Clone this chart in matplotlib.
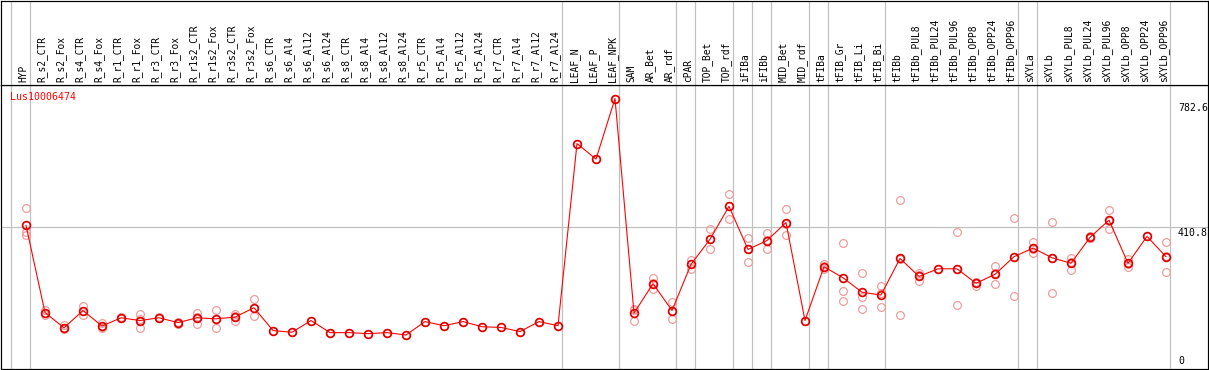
import matplotlib

matplotlib.use("Agg")
import matplotlib.pyplot as plt
import numpy as np

gene = "Lus10006474"

samples = [
    "HYP", "R_s2_CTR", "R_s2_Fox", "R_s4_CTR", "R_s4_Fox", "R_r1_CTR", "R_r1_Fox",
    "R_r3_CTR", "R_r3_Fox", "R_r1s2_CTR", "R_r1s2_Fox", "R_r3s2_CTR", "R_r3s2_Fox",
    "R_s6_CTR", "R_s6_Al4", "R_s6_Al12", "R_s6_Al24", "R_s8_CTR", "R_s8_Al4",
    "R_s8_Al12", "R_s8_Al24", "R_r5_CTR", "R_r5_Al4", "R_r5_Al12", "R_r5_Al24",
    "R_r7_CTR", "R_r7_Al4", "R_r7_Al12", "R_r7_Al24", "LEAF_N", "LEAF_P", "LEAF_NPK",
    "SAM", "AR_Bet", "AR_rdf", "cPAR", "TOP_Bet", "TOP_rdf", "iFIBa", "iFIBb",
    "MID_Bet", "MID_rdf", "tFIBa", "tFIB_Gr", "tFIB_Li", "tFIB_Bi", "tFIBb",
    "tFIBb_PUL8", "tFIBb_PUL24", "tFIBb_PUL96", "tFIBb_OPP8", "tFIBb_OPP24",
    "tFIBb_OPP96", "sXYLa", "sXYLb", "sXYLb_PUL8", "sXYLb_PUL24", "sXYLb_PUL96",
    "sXYLb_OPP8", "sXYLb_OPP24", "sXYLb_OPP96",
]

mean_expr = [
    415, 162, 118, 168, 123, 147, 139, 147, 133, 147, 144, 149, 176,
    110, 105, 139, 104, 104, 101, 104, 97, 136, 124, 136, 121, 119, 107, 136, 124,
    652, 607, 782.6,
    160.5, 246, 168, 302, 374.5, 470, 345, 371, 423, 139, 295, 263, 221, 213, 319,
    267, 289, 289, 247, 273, 324, 349, 321, 305, 380, 430, 305, 383, 324,
]

replicates = [
    [464, 396, 387], [169, 155, 161], [125, 115, 116], [181, 154, 168],
    [131, 118, 121], [147, 145, 149], [157, 118, 143], [146, 148, 147],
    [136, 130, 132], [162, 130, 150], [171, 118, 143], [157, 152, 138],
    [200, 152, 176],
    [110], [105], [139], [104], [104], [101], [104], [97], [136], [124], [136],
    [121], [119], [107], [136], [124], [652], [607], [782.6],
    [171, 137, 173], [261, 229, 247], [192, 144, 168], [314, 287, 304],
    [403, 345, 375], [507, 432, 471], [379, 310, 345], [394, 345, 373],
    [461, 388, 419], [139], [302, 287, 296], [365, 226, 197], [276, 208, 173],
    [239, 179, 220], [488, 154, 316], [278, 253, 270], [289], [397, 183, 288],
    [250, 239, 250], [296, 246, 276], [437, 211, 324], [367, 336, 345],
    [426, 218, 320], [321, 285, 308], [384, 378, 379], [459, 404, 427],
    [318, 294, 302], [383], [368, 279, 326],
]

# group separators drawn just right of these sample indices
group_ends = [-1, 0, 28, 31, 34, 35, 37, 38, 39, 41, 42, 45, 52, 53, 60]

W, H = 1209, 370
fig = plt.figure(figsize=(W / 100, H / 100), dpi=100)
mono = "DejaVu Sans Mono"
grey = "#c0c0c0"
px = 0.72  # one pixel in points

header_px = 85
left, right, bottom = 1.0, 1207.5, 368.5
ax = fig.add_axes([left / W, (H - bottom) / H, (right - left) / W, (bottom - header_px) / H])
hx = fig.add_axes([left / W, (H - header_px) / H, (right - left) / W, (header_px - 0.5) / H])

x = np.arange(len(samples))
# pixel x of sample i is 26 + 19*i
xlim = ((left - 26) / 19, (right - 26) / 19)
top_val = max(mean_expr)
ymax = top_val * 1.05
mid_val = np.floor(ymax / 2 * 10) / 10

for a in (ax, hx):
    a.set_xlim(*xlim)
    a.set_xticks([])
    a.set_yticks([])
    for s in a.spines.values():
        s.set_linewidth(1.2 * px)
        s.set_color("black")
    for g in group_ends:
        a.axvline(g + 0.23, color=grey, lw=1.2 * px, zorder=0)

ax.set_ylim(0, ymax)
hx.set_ylim(0, 1)
ax.axhline(mid_val, color=grey, lw=1.2 * px, zorder=0)

for i, reps in enumerate(replicates):
    ax.plot([i] * len(reps), reps, "o", ms=5.6, mfc="none", mec="#f09a9a",
            mew=1.2 * px, zorder=2, clip_on=False)
ax.plot(x, mean_expr, "-", color="red", lw=1.1 * px, zorder=3)
ax.plot(x, mean_expr, "o", ms=5.6, mfc="none", mec="#e00000", mew=1.7 * px, zorder=4)

for i, name in enumerate(samples):
    hx.text(i - 0.15, 0.035, name, rotation=90, ha="center", va="bottom",
            family=mono, fontsize=6.9)

ax.text(0.0075, 0.975, gene, transform=ax.transAxes, color="red", family=mono,
        fontsize=7.1, ha="left", va="top")

lab_x = (1178 - 26) / 19
ax.text(lab_x, top_val - 12, f"{top_val:.1f}", family=mono,
        fontsize=7.1, ha="left", va="top", clip_on=True)
ax.text(lab_x, mid_val - 4, f"{mid_val:.1f}", family=mono,
        fontsize=7.1, ha="left", va="top", clip_on=True)
ax.text(lab_x, 8, "0", family=mono, fontsize=7.1, ha="left", va="bottom")

fig.savefig("out.png", dpi=100)
